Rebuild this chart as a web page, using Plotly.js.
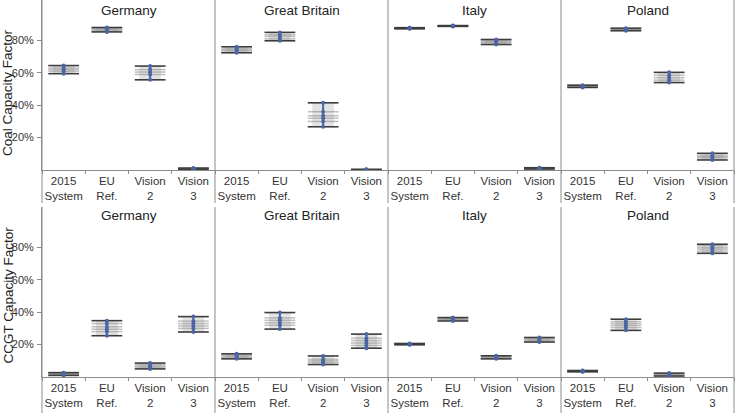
<!DOCTYPE html>
<html>
<head>
<meta charset="utf-8">
<script src="https://cdn.plot.ly/plotly-3.0.1.min.js"></script>
<style>
  html, body { margin: 0; padding: 0; background: #fff; }
  #chart { width: 736px; height: 413px; }
</style>
</head>
<body>
<div id="chart"></div>
<script>
// Categories, panels and row titles
const categories = ["2015<br>System", "EU<br>Ref.", "Vision<br>2", "Vision<br>3"];
const countries = ["Germany", "Great Britain", "Italy", "Poland"];
const rowTitles = ["Coal Capacity Factor", "CCGT Capacity Factor"];
const yTickValues = [0.2, 0.4, 0.6, 0.8];

// Coal capacity factor: per category, the values of the runs
const coalGermany = [
  [0.595, 0.61, 0.62, 0.63, 0.645],
  [0.853, 0.862, 0.868, 0.875, 0.88],
  [0.557, 0.59, 0.605, 0.62, 0.642],
  [0.004, 0.006, 0.008, 0.010, 0.012]
];
const coalGreatBritain = [
  [0.724, 0.735, 0.742, 0.75, 0.761],
  [0.798, 0.81, 0.825, 0.835, 0.85],
  [0.267, 0.30, 0.32, 0.335, 0.36, 0.415],
  [0.000, 0.001, 0.002, 0.003, 0.004]
];
const coalItaly = [
  [0.872, 0.874, 0.876, 0.878, 0.879],
  [0.887, 0.889, 0.89, 0.891, 0.892],
  [0.775, 0.785, 0.792, 0.80, 0.806],
  [0.006, 0.008, 0.010, 0.012, 0.014]
];
const coalPoland = [
  [0.51, 0.514, 0.518, 0.521, 0.524],
  [0.86, 0.865, 0.868, 0.872, 0.876],
  [0.54, 0.555, 0.57, 0.585, 0.603],
  [0.062, 0.075, 0.082, 0.09, 0.103]
];

// CCGT capacity factor
const ccgtGermany = [
  [0.010, 0.015, 0.020, 0.024, 0.027],
  [0.255, 0.28, 0.295, 0.31, 0.33, 0.348],
  [0.05, 0.06, 0.068, 0.077, 0.086],
  [0.278, 0.30, 0.315, 0.33, 0.345, 0.373]
];
const ccgtGreatBritain = [
  [0.112, 0.12, 0.127, 0.135, 0.143],
  [0.296, 0.32, 0.335, 0.35, 0.365, 0.398],
  [0.077, 0.09, 0.10, 0.11, 0.13],
  [0.178, 0.195, 0.21, 0.225, 0.24, 0.265]
];
const ccgtItaly = [
  [0.199, 0.201, 0.203, 0.205, 0.207],
  [0.346, 0.352, 0.357, 0.362, 0.367],
  [0.112, 0.117, 0.122, 0.127, 0.131],
  [0.216, 0.222, 0.229, 0.236, 0.244]
];
const ccgtPoland = [
  [0.032, 0.034, 0.036, 0.038, 0.040],
  [0.288, 0.305, 0.318, 0.33, 0.342, 0.357],
  [0.006, 0.010, 0.015, 0.020, 0.024],
  [0.764, 0.778, 0.79, 0.80, 0.812, 0.82]
];

const panels = [
  coalGermany, coalGreatBritain, coalItaly, coalPoland,
  ccgtGermany, ccgtGreatBritain, ccgtItaly, ccgtPoland
];

const FONT = "Liberation Sans, Arial, sans-serif";
const BLUE = "#4b67a3";
const DARK = "#3c3c3c";
const AXIS = "#8c8c8c";

const traces = [];
panels.forEach((panel, p) => {
  const xa = p === 0 ? "x" : "x" + (p + 1);
  const ya = p < 4 ? "y" : "y2";
  const barX = [], barBase = [], barLen = [];
  const innerX = [], innerY = [], edgeX = [], edgeY = [], dotX = [], dotY = [];
  panel.forEach((vals, i) => {
    const s = vals.slice().sort((a, b) => a - b);
    const lo = s[0], hi = s[s.length - 1];
    barX.push(categories[i]); barBase.push(lo); barLen.push(hi - lo);
    s.slice(1, -1).forEach(v => { innerX.push(categories[i]); innerY.push(v); });
    edgeX.push(categories[i], categories[i]); edgeY.push(lo, hi);
    s.forEach(v => { dotX.push(categories[i]); dotY.push(v); });
    dotX.push(null); dotY.push(null);
  });
  traces.push({
    type: "bar", x: barX, y: barLen, base: barBase, width: 0.5,
    xaxis: xa, yaxis: ya, showlegend: false, hoverinfo: "skip",
    marker: { color: "rgba(185,185,185,0.4)", line: { width: 0 } }
  });
  traces.push({
    type: "scatter", mode: "markers", x: innerX, y: innerY,
    xaxis: xa, yaxis: ya, showlegend: false, hoverinfo: "skip",
    marker: { symbol: "line-ew", size: 22, color: "rgba(130,130,130,0.5)",
              line: { color: "rgba(130,130,130,0.5)", width: 1.5 } }
  });
  traces.push({
    type: "scatter", mode: "markers", x: edgeX, y: edgeY,
    xaxis: xa, yaxis: ya, showlegend: false, hoverinfo: "skip",
    marker: { symbol: "line-ew", size: 22, color: DARK, line: { color: DARK, width: 1.6 } }
  });
  traces.push({
    type: "scatter", mode: "lines+markers", x: dotX, y: dotY, connectgaps: false,
    xaxis: xa, yaxis: ya, showlegend: false,
    line: { color: BLUE, width: 2 },
    marker: { color: BLUE, size: 4 }
  });
});

const W = 736, H = 413, L = 42, R = 2, T = 0, B = 36;
const plotH = H - T - B;
const plotW = W - L - R;
const topDomain = [(plotH - 170) / plotH, 1];
const botDomain = [0, 170 / plotH];

const layout = {
  width: W, height: H,
  margin: { l: L, r: R, t: T, b: B },
  paper_bgcolor: "#fff", plot_bgcolor: "#fff",
  font: { family: FONT, size: 11.5, color: "#333" },
  barmode: "overlay",
  showlegend: false,
  annotations: [],
  shapes: []
};

for (let p = 0; p < 8; p++) {
  const key = p === 0 ? "xaxis" : "xaxis" + (p + 1);
  const col = p % 4;
  layout[key] = {
    domain: [col * 0.25, (col + 1) * 0.25],
    anchor: p < 4 ? "y" : "y2",
    type: "category",
    categoryorder: "array", categoryarray: categories,
    range: [-0.5, 3.5],
    showline: true, linecolor: AXIS, linewidth: 1,
    ticks: "outside", tickson: "boundaries", ticklen: 3, tickcolor: AXIS,
    tickangle: 0, automargin: false,
    showgrid: false, zeroline: false, fixedrange: true,
    tickfont: { family: FONT, size: 11.5, color: "#333" }
  };
  layout.annotations.push({
    text: countries[col], xref: "paper", yref: "paper",
    x: col * 0.25 + 0.125, y: p < 4 ? 1 - 10 / plotH : 1 - 215.5 / plotH,
    xanchor: "center", yanchor: "middle", showarrow: false,
    font: { family: FONT, size: 13.5, color: "#222" }
  });
}

const yCommon = {
  range: [0, 1.05], tickvals: yTickValues, tickformat: ".0%",
  showline: true, linecolor: AXIS, linewidth: 1,
  ticks: "outside", ticklen: 4, tickcolor: AXIS, automargin: false,
  ticklabelstandoff: 1,
  showgrid: false, zeroline: false, fixedrange: true,
  tickfont: { family: FONT, size: 11, color: "#333" }
};
layout.yaxis = Object.assign({}, yCommon, { domain: topDomain, anchor: "x" });
layout.yaxis2 = Object.assign({}, yCommon, { domain: botDomain, anchor: "x5" });

// Row titles (y-axis titles) placed as rotated text
layout.annotations.push({
  text: rowTitles[0], xref: "paper", yref: "paper",
  x: (7.5 - L) / plotW, y: (H - B - 92.5) / plotH, textangle: -90,
  xanchor: "center", yanchor: "middle", showarrow: false,
  font: { family: FONT, size: 13.5, color: "#222" }
});
layout.annotations.push({
  text: rowTitles[1], xref: "paper", yref: "paper",
  x: (7.5 - L) / plotW, y: (H - B - 295) / plotH, textangle: -90,
  xanchor: "center", yanchor: "middle", showarrow: false,
  font: { family: FONT, size: 13.5, color: "#222" }
});

// Panel separators extending through the label area
const py = px => (H - B - px) / plotH;
[0, 0.25, 0.5, 0.75, 1].forEach(x => {
  layout.shapes.push({ type: "line", xref: "paper", yref: "paper", x0: x, x1: x,
    y0: py(0), y1: py(203), line: { color: AXIS, width: 1 } });
  layout.shapes.push({ type: "line", xref: "paper", yref: "paper", x0: x, x1: x,
    y0: py(207), y1: py(413), line: { color: AXIS, width: 1 } });
});

Plotly.newPlot("chart", traces, layout, { displayModeBar: false, staticPlot: true });
</script>
</body>
</html>
